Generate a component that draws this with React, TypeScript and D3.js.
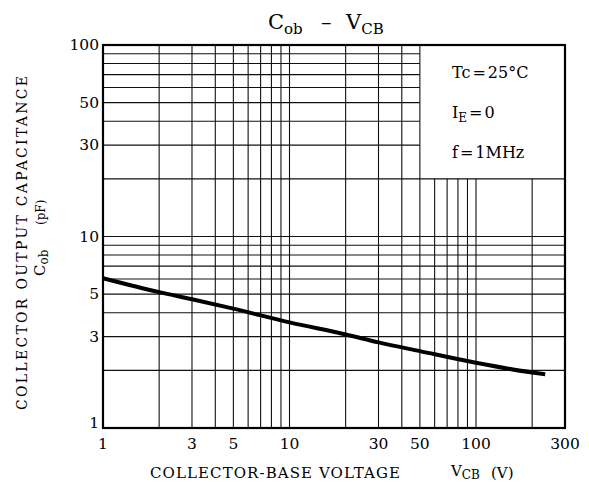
import React from 'react';
import * as d3 from 'd3';

// Cob vs VCB
const vcb = [1, 2, 3, 5, 10, 20, 30, 50, 100, 200, 235];
const cob = [6.05, 5.12, 4.7, 4.2, 3.56, 3.08, 2.8, 2.52, 2.19, 1.95, 1.91];

const xTicks = [1, 3, 5, 10, 30, 50, 100, 300];
const yTicks = [1, 3, 5, 10, 30, 50, 100];

const xGrid = [2, 3, 4, 5, 6, 7, 8, 9, 10, 20, 30, 40, 50, 60, 70, 80, 90, 100, 200];
const yGrid = [2, 3, 4, 5, 6, 7, 8, 9, 10, 20, 30, 40, 50, 60, 70, 80, 90];

const W = 589;
const H = 492;
const margin = { left: 103, right: 24, top: 45, bottom: 64 };
const font = '"DejaVu Serif", serif';

const App: React.FC = () => {
  const x = d3.scaleLog().domain([1, 300]).range([margin.left, W - margin.right]);
  const y = d3.scaleLog().domain([1, 100]).range([H - margin.bottom, margin.top]);

  // condition box sits on the 50 V / 20 pF grid lines
  const boxX = 50;
  const boxY = 20;

  const line = d3
    .line<number>()
    .x((d) => x(vcb[d]))
    .y((d) => y(cob[d]))
    .curve(d3.curveMonotoneX);

  const [x0, x1] = x.range();
  const [y0, y1] = y.range();

  return (
    <svg
      width={W}
      height={H}
      style={{ position: 'absolute', left: 0, top: 0, background: '#fff' }}
      fontFamily={font}
    >
      {/* vertical grid */}
      {xGrid.map((v) => (
        <line
          key={'vx' + v}
          x1={x(v)}
          x2={x(v)}
          y1={y0}
          y2={v > boxX ? y(boxY) : y1}
          stroke="#111"
          strokeWidth={1.1}
        />
      ))}
      {/* horizontal grid */}
      {yGrid.map((v) => (
        <line
          key={'hy' + v}
          x1={x0}
          x2={v > boxY ? x(boxX) : x1}
          y1={y(v)}
          y2={y(v)}
          stroke="#111"
          strokeWidth={1.1}
        />
      ))}
      <rect x={x0} y={y1} width={x1 - x0} height={y0 - y1} fill="none" stroke="#000" strokeWidth={2.2} />

      <path d={line(d3.range(vcb.length)) ?? ''} fill="none" stroke="#000" strokeWidth={4} />

      {/* ticks */}
      {xTicks.map((v) => (
        <text key={'xt' + v} x={x(v)} y={y0 + 21} textAnchor="middle" fontSize={15.5}>
          {v}
        </text>
      ))}
      {yTicks.map((v) => (
        <text key={'yt' + v} x={x0 - 4} y={y(v) + (v === 1 ? 0 : 5)} textAnchor="end" fontSize={15.5}>
          {v}
        </text>
      ))}

      {/* title */}
      <text x={268} y={29} fontSize={21}>
        <tspan>C</tspan>
        <tspan fontSize={15} dy={5}>ob</tspan>
        <tspan dy={-5} x={321}>–</tspan>
        <tspan x={346}>V</tspan>
        <tspan fontSize={15} dy={5}>CB</tspan>
      </text>

      {/* conditions */}
      <g fontSize={16}>
        <text x={452} y={78}>
          Tc<tspan dx={2}>=</tspan>
          <tspan dx={2}>25°C</tspan>
        </text>
        <text x={452} y={118}>
          I<tspan fontSize={12} dy={4}>E</tspan>
          <tspan dy={-4} dx={2}>=</tspan>
          <tspan dx={2}>0</tspan>
        </text>
        <text x={452} y={158}>
          f<tspan dx={2}>=</tspan>
          <tspan dx={2}>1MHz</tspan>
        </text>
      </g>

      {/* x axis title */}
      <g fontSize={15}>
        <text x={150} y={478} textLength={250} lengthAdjust="spacing">
          COLLECTOR-BASE VOLTAGE
        </text>
        <text x={451} y={476}>
          V<tspan fontSize={12} dy={3}>CB</tspan>
        </text>
        <text x={491} y={478}>(V)</text>
      </g>

      {/* y axis title */}
      <g transform="translate(27,243) rotate(-90)">
        <text x={-167} y={0} fontSize={14} textLength={334} lengthAdjust="spacing">
          COLLECTOR OUTPUT CAPACITANCE
        </text>
        <g transform="translate(0,18)">
          <text x={-33} y={0} fontSize={15}>
            C<tspan fontSize={12} dy={3}>ob</tspan>
          </text>
          <text x={18} y={0} fontSize={12}>
            (pF)
          </text>
        </g>
      </g>
    </svg>
  );
};

export default App;
